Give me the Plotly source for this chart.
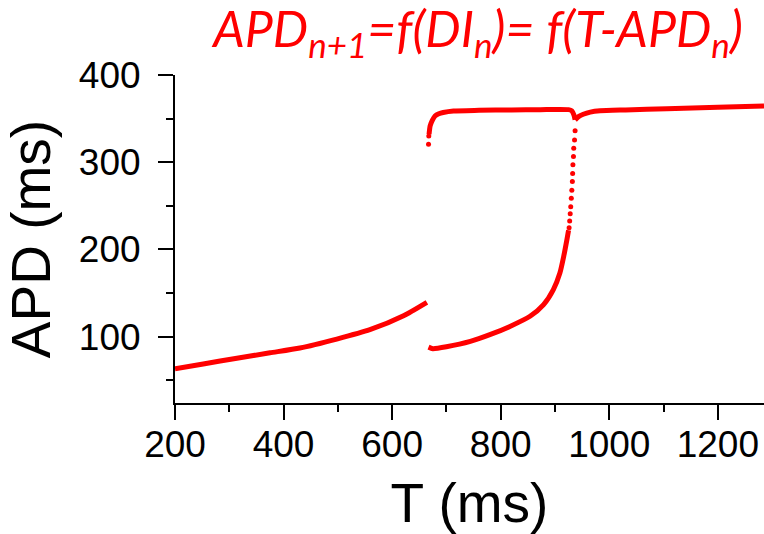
import plotly.graph_objects as go

# ---- data ----
# lower-left branch
a_T = [200, 252, 314, 375, 430, 498, 559, 621, 664]
a_APD = [63.3, 68.8, 75.3, 81.5, 87.0, 97.3, 108.0, 124.0, 139.4]

# middle branch (smooth part)
b_T = [667, 675, 700, 744, 780, 817, 854, 879, 897, 909, 916, 922, 925]
b_APD = [88.0, 86.3, 88.5, 94.6, 102.3, 111.8, 123.4, 136.8, 154.0, 173.0, 192.0, 211.5, 222.0]

# steep part drawn as separate dots
s_T = [926, 927, 928, 929, 930, 931, 932, 932.5, 933, 934, 934.5, 936, 937]
s_APD = [225, 232.5, 241, 249, 258.6, 268, 277.8, 287, 297, 306.5, 316, 325.6, 336]

# isolated dots at start of the upper branch
u0_T = [667, 667.5]
u0_APD = [320.7, 330.0]

# upper branch
c_T = [668, 670, 674, 679, 686, 694, 713, 760, 820, 873, 925, 931, 935, 937]
c_APD = [332, 341.7, 348, 353, 355.5, 357, 358.8, 359.5, 360, 360.3, 360.3, 359, 354, 348.6]

# right branch
d_T = [937, 944, 952, 965, 983, 1030, 1106, 1200, 1285]
d_APD = [348.6, 352.5, 355, 357.5, 359, 360, 361.3, 363, 364.5]

x_ticks = [200, 400, 600, 800, 1000, 1200]
y_ticks = [100, 200, 300, 400]

RED = "#ff0000"
fig = go.Figure()
for tx, ty in [(a_T, a_APD), (b_T, b_APD), (c_T, c_APD), (d_T, d_APD)]:
    fig.add_trace(go.Scatter(x=tx, y=ty, mode="lines",
                             line=dict(color=RED, width=5, shape="spline", smoothing=0.6),
                             showlegend=False, hoverinfo="skip"))
for tx, ty in [(s_T, s_APD), (u0_T, u0_APD)]:
    fig.add_trace(go.Scatter(x=tx, y=ty, mode="markers",
                             marker=dict(color=RED, size=5, line=dict(width=0)),
                             showlegend=False, hoverinfo="skip"))

axis_font = dict(family="Liberation Sans, Arial, sans-serif", size=37, color="black")
title_font = dict(family="Liberation Sans, Arial, sans-serif", size=55, color="black")

fig.update_layout(
    width=764, height=534,
    margin=dict(l=175, r=0, t=75, b=131),
    paper_bgcolor="white", plot_bgcolor="white",
    title=dict(
        text="<i>APD<sub>n+1</sub>=f(DI<sub>n</sub>)= f(T-APD<sub>n</sub>)</i>",
        font=dict(family="Lato, sans-serif", size=50, color=RED, style="italic"),
        xref="container", yref="container",
        x=478 / 764, xanchor="center",
        y=1 - 12 / 534, yanchor="top",
    ),
    xaxis=dict(
        range=[200, 1285], tickvals=x_ticks, ticktext=[str(v) for v in x_ticks],
        showgrid=False, zeroline=False, showline=True, linecolor="black", linewidth=2,
        ticks="outside", ticklen=15, tickwidth=2, tickcolor="black",
        tickfont=axis_font, ticklabelstandoff=-7,
        minor=dict(dtick=100, tick0=200, ticks="outside", ticklen=7, tickwidth=2,
                   tickcolor="black", showgrid=False),
        title=dict(text="T (ms)", font=title_font, standoff=24),
    ),
    yaxis=dict(
        range=[24, 400], tickvals=y_ticks, ticktext=[str(v) for v in y_ticks],
        showgrid=False, zeroline=False, showline=True, linecolor="black", linewidth=2,
        ticks="outside", ticklen=15, tickwidth=2, tickcolor="black",
        tickfont=axis_font, ticklabelstandoff=10,
        minor=dict(dtick=50, tick0=0, ticks="outside", ticklen=7, tickwidth=2,
                   tickcolor="black", showgrid=False),
        title=dict(text="APD (ms)", font=title_font, standoff=14),
    ),
)

fig.write_html("out.html")
